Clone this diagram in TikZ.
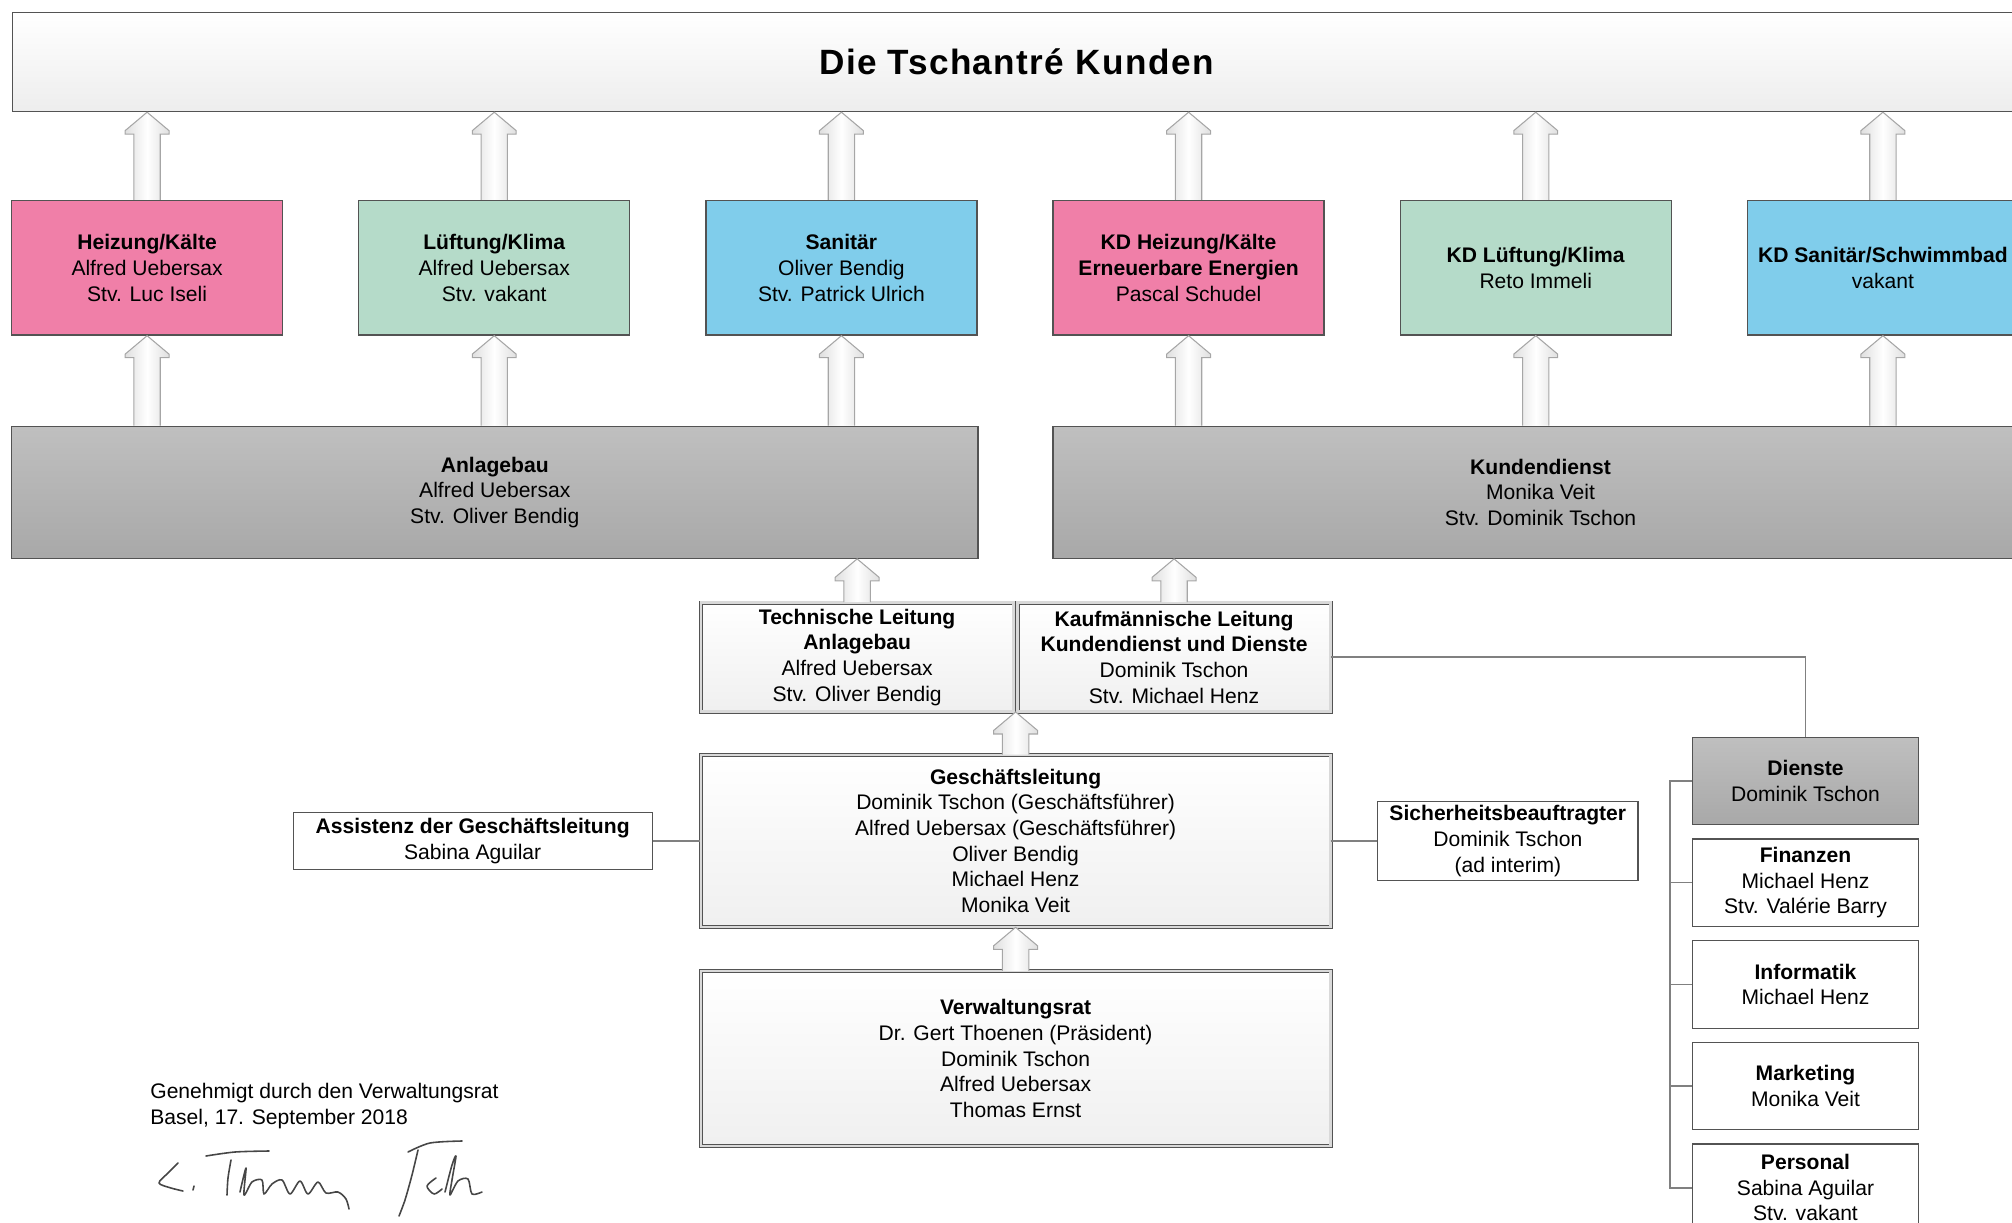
\documentclass[tikz,border=0pt]{standalone}
\usepackage{fontspec}
\setmainfont{Liberation Sans}
\usepackage{tikz}
\usetikzlibrary{positioning, calc}
\definecolor{kd_pink}{HTML}{F07FA8}
\definecolor{kd_green}{HTML}{B5DBC9}
\definecolor{kd_blue}{HTML}{80CDEB}
\colorlet{boxline}{gray!65!black}
\newcommand\shaftw{7.5pt}
\newcommand\headw{12.5pt}
\newcommand\headl{12.5pt}
\newcommand\flange{2pt}
\newcommand\blockup[2]{%
  \draw[liftarrow] let \p1=(#1), \p2=(#2) in
    (\x1-\shaftw,\y1) -- (\x1-\shaftw,\y2-\headl) -- (\x1-\headw,\y2-\headl)
    -- (\x1-\headw,\y2-\headl+\flange) -- (\x1,\y2) -- (\x1+\headw,\y2-\headl+\flange)
    -- (\x1+\headw,\y2-\headl) -- (\x1+\shaftw,\y2-\headl) -- (\x1+\shaftw,\y1);}
\tikzset{
  orgbox/.style={rectangle,draw=boxline,line width=0.7pt,align=center,inner sep=1pt,font=\fontsize{12}{14.6}\selectfont},
  titlebar/.style={orgbox,top color=white,bottom color=gray!14,minimum width=40.16cm,minimum height=1.98cm,font=\fontsize{20}{24}\selectfont\bfseries\addfontfeature{LetterSpace=4}},
  dept/.style={orgbox,minimum width=5.42cm,minimum height=2.69cm},
  area/.style={orgbox,top color=gray!50,bottom color=gray!68,minimum height=2.64cm},
  board/.style={orgbox,line width=0.5pt,double=gray!30,double distance=1.3pt,top color=white,bottom color=gray!12},
  staff/.style={orgbox,fill=white,minimum width=4.52cm,minimum height=1.75cm},
  link/.style={draw=gray,line width=0.8pt},
  liftarrow/.style={draw=gray!70,line width=0.6pt,left color=gray!25,right color=gray!25,middle color=white,line join=miter},
  signpen/.style={draw=gray!55!black,line width=0.9pt,line cap=round,line join=round},
}

\begin{document}
\begin{tikzpicture}[x=0.02cm,y=-0.02cm]
	\useasboundingbox (0,0) rectangle (2012,1223);
	\clip (0,0) rectangle (2012,1223);
	\node[titlebar,anchor=north west] (K) at (12,12) {Die Tschantré Kunden};
	\node[dept,fill=kd_pink,anchor=north west] (H1) at (11,200) {\textbf{Heizung/Kälte}\\Alfred Uebersax\\Stv. Luc Iseli};
	\node[dept,fill=kd_green,right=1.50cm of H1] (L1) {\textbf{Lüftung/Klima}\\Alfred Uebersax\\Stv. vakant};
	\node[dept,fill=kd_blue,right=1.50cm of L1] (S1) {\textbf{Sanitär}\\Oliver Bendig\\Stv. Patrick Ulrich};
	\node[dept,fill=kd_pink,right=1.50cm of S1] (H2) {\textbf{KD Heizung/Kälte}\\\textbf{Erneuerbare Energien}\\Pascal Schudel};
	\node[dept,fill=kd_green,right=1.50cm of H2] (L2) {\textbf{KD Lüftung/Klima}\\Reto Immeli};
	\node[dept,fill=kd_blue,right=1.50cm of L2] (S2) {\textbf{KD Sanitär/Schwimmbad}\\vakant};
	\node[area,minimum width=19.33cm,below=1.8cm of H1.south west,anchor=north west] (AB) {\textbf{Anlagebau}\\Alfred Uebersax\\Stv. Oliver Bendig};
	\node[area,minimum width=19.5cm,below=1.8cm of H2.south west,anchor=north west] (KD) {\textbf{Kundendienst}\\Monika Veit\\Stv. Dominik Tschon};
	\node[board,minimum width=12.6cm,minimum height=3.44cm,anchor=north] (GL) at (1015.6,754.5) {\textbf{Geschäftsleitung}\\Dominik Tschon (Geschäftsführer)\\Alfred Uebersax (Geschäftsführer)\\Oliver Bendig\\Michael Henz\\Monika Veit};
	\node[board,minimum width=6.26cm,minimum height=2.18cm,above=0.85cm of GL.north west,anchor=south west] (TL) {\textbf{Technische Leitung}\\\textbf{Anlagebau}\\Alfred Uebersax\\Stv. Oliver Bendig};
	\node[board,minimum width=6.26cm,minimum height=2.18cm,above=0.85cm of GL.north east,anchor=south east] (KL) {\textbf{Kaufmännische Leitung}\\\textbf{Kundendienst und Dienste}\\Dominik Tschon\\Stv. Michael Henz};
	\node[board,minimum width=12.6cm,minimum height=3.49cm,below=0.87cm of GL] (VR) {\textbf{Verwaltungsrat}\\Dr. Gert Thoenen (Präsident)\\Dominik Tschon\\Alfred Uebersax\\Thomas Ernst};
	\node[orgbox,fill=white,minimum width=7.18cm,minimum height=1.13cm,left=0.95cm of GL] (AS) {\textbf{Assistenz der Geschäftsleitung}\\Sabina Aguilar};
	\node[orgbox,fill=white,minimum width=5.21cm,minimum height=1.59cm,right=0.92cm of GL] (SB) {\textbf{Sicherheitsbeauftragter}\\Dominik Tschon\\(ad interim)};
	\node[staff,top color=gray!50,bottom color=gray!68,anchor=north] (DI) at (1805.5,736.6) {\textbf{Dienste}\\Dominik Tschon};
	\node[staff,below=0.26cm of DI] (FI) {\textbf{Finanzen}\\Michael Henz\\Stv. Valérie Barry};
	\node[staff,below=0.26cm of FI] (IN) {\textbf{Informatik}\\Michael Henz};
	\node[staff,below=0.26cm of IN] (MA) {\textbf{Marketing}\\Monika Veit};
	\node[staff,below=0.26cm of MA] (PE) {\textbf{Personal}\\Sabina Aguilar\\Stv. vakant};
	\node[font=\fontsize{12}{14.6}\selectfont,align=left,inner sep=0pt,anchor=north west] (GN) at (150,1083) {Genehmigt durch den Verwaltungsrat\\Basel, 17. September 2018};
	\draw[link] (AS.east) -- (GL.west);
	\draw[link] (GL.east) -- (SB.west);
	\draw[link] (KL.east) -| (DI.north);
	\draw[link] (DI.west) -- ++(-22,0) coordinate (rail) |- (PE.west);
	\foreach \u in {FI,IN,MA} \draw[link] (\u.west) -- (\u.west -| rail);
	\foreach \u in {H1,L1,S1,H2,L2,S2} \blockup{\u.north}{\u.north |- K.south};
	\foreach \u in {H1,L1,S1} \blockup{\u.south |- AB.north}{\u.south};
	\foreach \u in {H2,L2,S2} \blockup{\u.south |- KD.north}{\u.south};
	\blockup{TL.north}{TL.north |- AB.south};
	\blockup{KL.north}{KL.north |- KD.south};
	\blockup{GL.north}{GL.north |- TL.south};
	\blockup{VR.north}{GL.south};
	\draw[signpen] plot[smooth] coordinates {(178,1163) (168,1173) (159,1183) (171,1188) (183,1191)};
	\draw[signpen] (194,1186) -- (193,1190);
	\draw[signpen] plot[smooth] coordinates {(206,1156) (235,1152) (269,1151)};
	\draw[signpen] plot[smooth] coordinates {(231,1160) (228,1178) (227,1195)};
	\draw[signpen] plot[smooth] coordinates {(240,1192) (246,1168) (244,1195) (252,1182) (262,1180) (264,1194) (272,1184) (282,1180) (290,1194) (300,1181) (308,1194) (318,1182) (326,1193) (338,1192) (346,1199) (349,1209)};
	\draw[signpen] plot[smooth] coordinates {(408,1152) (430,1143) (462,1141)};
	\draw[signpen] plot[smooth] coordinates {(418,1150) (412,1175) (405,1200) (399,1216)};
	\draw[signpen] plot[smooth] coordinates {(436,1178) (427,1186) (434,1194) (442,1189)};
	\draw[signpen] plot[smooth] coordinates {(445,1192) (452,1165) (456,1156) (452,1180) (450,1195) (458,1181) (468,1179) (472,1194) (482,1192)};
\end{tikzpicture}
\end{document}
